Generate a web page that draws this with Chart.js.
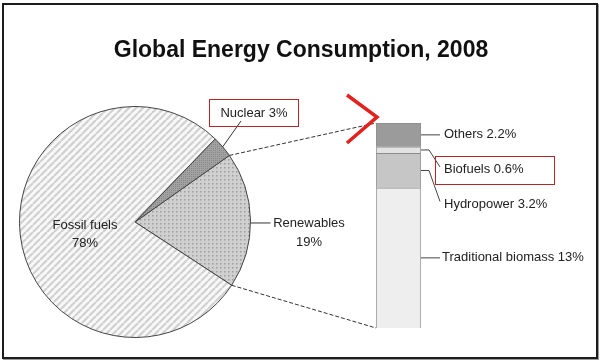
<!DOCTYPE html>
<html>
<head>
<meta charset="utf-8">
<title>Global Energy Consumption, 2008</title>
<script src="https://cdn.jsdelivr.net/npm/chart.js@4/dist/chart.umd.min.js"></script>
<style>
    body { margin: 0; background: #fff; }
    #wrap { position: relative; width: 600px; height: 364px; background: #fff; }
    #frame {
        position: absolute; left: 2px; top: 3px; width: 592px; height: 352px;
        border: 2px solid #1c1c1c; box-shadow: 1px 1px 0 #9a9a9a;
    }
    #pieCanvas { position: absolute; left: 19px; top: 106px; }
    #barCanvas { position: absolute; left: 0; top: 0; }
</style>
</head>
<body>
<div id="wrap">
    <div id="frame"></div>
    <canvas id="pieCanvas" width="232" height="232"></canvas>
    <canvas id="barCanvas" width="600" height="364"></canvas>
</div>
<script>
const chartTitle = 'Global Energy Consumption, 2008';
const pieLabels = ['Renewables', 'Fossil fuels', 'Nuclear'];
const pieValues = [19, 78, 3];
const barLabels = ['Traditional biomass', 'Hydropower', 'Biofuels', 'Others'];
const barValues = [13, 3.2, 0.6, 2.2];

const FONT = '13px "Liberation Sans", Arial, sans-serif';
const TEXT = '#222';
const RED = '#b3262b';

function makePattern(size, draw) {
    const c = document.createElement('canvas');
    c.width = c.height = size;
    const g = c.getContext('2d');
    draw(g, size);
    return g.createPattern(c, 'repeat');
}

// diagonal stripes for fossil fuels
const stripes = makePattern(7, (g, s) => {
    g.fillStyle = '#f8f8f8';
    g.fillRect(0, 0, s, s);
    g.strokeStyle = '#d0d0d0';
    g.lineWidth = 2.2;
    g.beginPath();
    [-s, 0, s].forEach(o => { g.moveTo(o, s); g.lineTo(o + s, 0); });
    g.stroke();
});

// dotted fill for renewables
const dots = makePattern(4, (g, s) => {
    g.fillStyle = '#d0d0d0';
    g.fillRect(0, 0, s, s);
    g.fillStyle = '#9c9c9c';
    g.fillRect(1, 1, 1.5, 1.5);
});

// fine hatch for nuclear
const hatch = makePattern(2, (g, s) => {
    g.fillStyle = '#a2a2a2';
    g.fillRect(0, 0, s, s);
    g.fillStyle = '#878787';
    g.fillRect(0, 0, 1, 1);
});

const pieChart = new Chart(document.getElementById('pieCanvas'), {
    type: 'pie',
    data: {
        labels: pieLabels,
        datasets: [{
            data: pieValues,
            backgroundColor: [dots, stripes, hatch],
            borderColor: '#444',
            borderWidth: 1
        }]
    },
    options: {
        responsive: false,
        animation: false,
        rotation: 54.8,
        layout: { padding: 0 },
        plugins: { legend: { display: false }, tooltip: { enabled: false } }
    }
});

const PIE_X = 19, PIE_Y = 106;

function arcPoint(arc, angle, r) {
    const rad = r === undefined ? arc.outerRadius : r;
    return {
        x: PIE_X + arc.x + rad * Math.cos(angle),
        y: PIE_Y + arc.y + rad * Math.sin(angle)
    };
}

function line(ctx, pts) {
    ctx.beginPath();
    ctx.moveTo(pts[0][0], pts[0][1]);
    for (let i = 1; i < pts.length; i++) ctx.lineTo(pts[i][0], pts[i][1]);
    ctx.stroke();
}

const overlay = {
    id: 'overlay',
    afterDraw(chart) {
        const ctx = chart.ctx;
        ctx.save();

        // title
        ctx.fillStyle = '#111';
        ctx.font = 'bold 23px "Liberation Sans", Arial, sans-serif';
        ctx.textAlign = 'center';
        ctx.textBaseline = 'alphabetic';
        ctx.fillText(chartTitle, 301, 57);

        const arcs = pieChart.getDatasetMeta(0).data;
        const ren = arcs[0], fos = arcs[1], nuc = arcs[2];
        const bars = barLabels.map((l, i) => chart.getDatasetMeta(i).data[0]);
        const top = bars[3], bottom = bars[0];
        const barLeft = top.x - top.width / 2;
        const barRight = top.x + top.width / 2;

        // dashed connectors from renewables slice to the bar
        ctx.strokeStyle = '#333';
        ctx.lineWidth = 1;
        ctx.setLineDash([4, 2]);
        const p1 = arcPoint(ren, ren.startAngle);
        const p2 = arcPoint(ren, ren.endAngle);
        line(ctx, [[p1.x, p1.y], [barLeft, top.y]]);
        line(ctx, [[p2.x, p2.y], [barLeft, bottom.base]]);
        ctx.setLineDash([]);

        ctx.font = FONT;
        ctx.fillStyle = TEXT;
        ctx.textBaseline = 'middle';

        // fossil fuels label inside the pie
        const cx = PIE_X + fos.x, cy = PIE_Y + fos.y;
        ctx.textAlign = 'center';
        ctx.fillText(pieLabels[1], cx - 50, cy + 3);
        ctx.fillText(pieValues[1] + '%', cx - 50, cy + 21);

        // renewables label with leader
        ctx.strokeStyle = '#333';
        const rm = arcPoint(ren, (ren.startAngle + ren.endAngle) / 2);
        const ry = rm.y + 3;
        line(ctx, [[rm.x, ry], [rm.x + 20, ry]]);
        ctx.fillText(pieLabels[0], 309, ry);
        ctx.fillText(pieValues[0] + '%', 309, ry + 19);

        // nuclear label, leader and red box
        const nm = arcPoint(nuc, (nuc.startAngle + nuc.endAngle) / 2);
        line(ctx, [[nm.x, nm.y], [241, 121]]);
        ctx.fillStyle = '#fff';
        ctx.fillRect(210, 100, 88, 20);
        ctx.fillStyle = TEXT;
        ctx.fillText(pieLabels[2] + ' ' + pieValues[2] + '%', 254, 113);
        ctx.strokeStyle = RED;
        ctx.strokeRect(209.5, 99.5, 89, 27);

        // bar labels with leaders
        ctx.strokeStyle = '#444';
        ctx.textAlign = 'left';
        const mid = el => (el.y + el.base) / 2;
        const tx = barRight + 23;
        line(ctx, [[barRight, mid(bars[3])], [barRight + 19, mid(bars[3])]]);
        ctx.fillText(barLabels[3] + ' ' + barValues[3] + '%', tx, mid(bars[3]));

        const by = mid(bars[2]);
        line(ctx, [[barRight, by], [barRight + 8, by], [barRight + 19, by + 17]]);
        ctx.fillText(barLabels[2] + ' ' + barValues[2] + '%', tx, by + 19);
        ctx.strokeStyle = RED;
        ctx.strokeRect(435.5, 156.5, 119, 28);

        ctx.strokeStyle = '#444';
        const hy = mid(bars[1]);
        line(ctx, [[barRight, hy], [barRight + 8, hy], [barRight + 19, hy + 31]]);
        ctx.fillText(barLabels[1] + ' ' + barValues[1] + '%', tx, hy + 34);

        const ty = mid(bars[0]);
        line(ctx, [[barRight, ty], [barRight + 19, ty]]);
        ctx.fillText(barLabels[0] + ' ' + barValues[0] + '%', barRight + 21, ty);

        // red chevron mark
        ctx.strokeStyle = '#e3211d';
        ctx.lineWidth = 3.5;
        ctx.lineJoin = 'miter';
        line(ctx, [[347, 95], [377, 117], [347, 143]]);

        ctx.restore();
    }
};

const barColors = ['#eeeeee', '#c6c6c6', '#e3e3e3', '#9b9b9b'];

new Chart(document.getElementById('barCanvas'), {
    type: 'bar',
    data: {
        labels: ['2008'],
        datasets: barLabels.map((label, i) => ({
            label: label,
            data: [barValues[i]],
            backgroundColor: barColors[i],
            borderColor: '#8c8c8c',
            borderWidth: 1,
            barPercentage: 1,
            categoryPercentage: 1
        }))
    },
    options: {
        responsive: false,
        animation: false,
        layout: { padding: { left: 376, right: 179, top: 123, bottom: 36 } },
        scales: {
            x: { display: false, stacked: true },
            y: { display: false, stacked: true, min: 0, max: 19 }
        },
        plugins: { legend: { display: false }, tooltip: { enabled: false } }
    },
    plugins: [overlay]
});
</script>
</body>
</html>
